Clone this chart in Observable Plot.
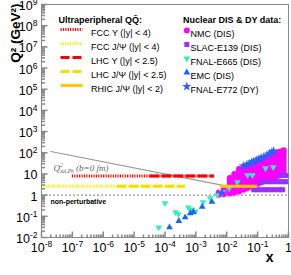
<!DOCTYPE html>
<html>
<head>
<meta charset="utf-8">
<script src="https://cdn.jsdelivr.net/npm/d3@7"></script>
<script src="https://cdn.jsdelivr.net/npm/@observablehq/plot@0.6"></script>
<style>
html,body{margin:0;padding:0;background:#fff;}
#chart{width:291px;height:275px;overflow:hidden;}
</style>
</head>
<body>
<div id="chart"></div>
<script>
// ---------- axis ticks ----------
const xTicks = [1e-8, 1e-7, 1e-6, 1e-5, 1e-4, 1e-3, 1e-2, 1e-1, 1];
const xTickLabels = ["10^-8","10^-7","10^-6","10^-5","10^-4","10^-3","10^-2","10^-1","1"];
const yTicks = [1e-2, 1e-1, 1, 10, 1e2, 1e3, 1e4, 1e5, 1e6, 1e7, 1e8, 1e9];
const yTickLabels = ["10^-2","10^-1","1","10","10^2","10^3","10^4","10^5","10^6","10^7","10^8","10^9"];

// ---------- ultraperipheral QQbar kinematic lines ----------
const upcTitle = "Ultraperipheral QQ\u0304:";
const upcNames = ["FCC \u03A5 (|y| < 4)", "FCC J/\u03A8 (|y| < 4)", "LHC \u03A5 (|y| < 2.5)", "LHC J/\u03A8 (|y| < 2.5)", "RHIC J/\u03A8 (|y| < 2)"];
const upcXmin = [1e-7, 1e-8, 3.4e-5, 2.9e-6, 6.2e-3];
const upcXmax = [4.0e-3, 4.6e-4, 4.0e-3, 4.6e-4, 0.1];
const upcQ2   = [8, 2.6, 8, 2.6, 2.6];

// ---------- saturation scale & non-perturbative limit ----------
const satX  = [2e-8, 1.1e-2];
const satQ2 = [115, 2.6];
const nonPertQ2 = [1];

// ---------- nuclear DIS & DY data ----------
const dataTitle = "Nuclear DIS & DY data:";
const dataNames = ["NMC (DIS)", "SLAC-E139 (DIS)", "FNAL-E665 (DIS)", "EMC (DIS)", "FNAL-E772 (DY)"];

const nmcX = [0.0055, 0.008, 0.0125, 0.0175, 0.025, 0.035, 0.045, 0.055, 0.07, 0.09, 0.11, 0.14, 0.18, 0.225, 0.275, 0.35, 0.45, 0.55, 0.7];
const nmcQ2 = [
  [1.05, 1.35],
  [1.1, 1.5, 2.0],
  [1.2, 1.7, 2.4, 3.4, 4.8, 6.5],
  [1.3, 1.9, 2.7, 3.9, 5.5, 7.8, 10],
  [1.5, 2.2, 3.2, 4.6, 6.6, 9.5, 13, 17],
  [1.8, 2.6, 3.8, 5.5, 8, 11.5, 16, 21],
  [2.1, 3.0, 4.4, 6.4, 9.3, 13.5, 19, 25],
  [2.4, 3.4, 5.0, 7.2, 10.5, 15, 21, 29],
  [2.8, 4.0, 5.8, 8.4, 12, 17.5, 25, 34],
  [3.2, 4.6, 6.6, 9.6, 14, 20, 28, 38],
  [3.6, 5.2, 7.5, 11, 16, 23, 32, 44],
  [4.2, 6.0, 8.7, 12.5, 18, 26, 37, 52],
  [4.8, 7.0, 10, 14.5, 21, 30, 43, 60],
  [5.4, 7.8, 11.3, 16.5, 24, 34, 49, 70],
  [6.0, 8.7, 12.5, 18, 26, 38, 55, 80],
  [7.0, 10, 14.5, 21, 30, 44, 63, 92],
  [8.0, 11.5, 16.5, 24, 35, 50, 72, 105],
  [9.0, 13, 19, 27, 39, 56, 80, 115],
  [10.5, 15, 22, 32, 46, 66, 95, 130]
];

const slacX  = [0.075, 0.09, 0.11, 0.14, 0.18, 0.22, 0.27, 0.35, 0.45, 0.55, 0.65,
                0.12, 0.15, 0.19, 0.24, 0.3, 0.38, 0.48, 0.6, 0.75, 0.85,
                0.55, 0.65, 0.78, 0.88];
const slacQ2 = [1.8, 1.8, 1.8, 1.8, 1.8, 1.8, 1.8, 1.8, 1.8, 1.8, 1.8,
                4.3, 4.3, 4.3, 4.3, 4.3, 4.3, 4.3, 4.3, 4.3, 4.3,
                8.5, 8.5, 8.5, 8.5];

const e665X  = [6.2e-5, 1.0e-4, 2.2e-4, 2.7e-4, 5.7e-4, 7.1e-4, 9.6e-4, 1.7e-3, 2.9e-3, 4.9e-3, 7.2e-3, 0.012, 0.022, 0.047, 0.068, 0.18, 0.32];
const e665Q2 = [0.03, 0.42, 0.155, 0.126, 0.26, 0.21, 0.17, 0.47, 0.71, 1.0, 1.4, 2.1, 4.1, 8.7, 8.7, 18.6, 21];

const emcX  = [1.4e-4, 2.8e-4, 4.5e-4, 6.6e-4, 8.3e-4, 1.6e-3, 3.3e-3, 7.0e-3];
const emcQ2 = [0.03, 0.06, 0.09, 0.14, 0.16, 0.28, 0.48, 1.3];

const e772X  = [0.035, 0.045, 0.055, 0.065, 0.075, 0.09, 0.11, 0.13, 0.16, 0.2, 0.24, 0.29, 0.33];
const e772Q2 = [24, 27, 31, 36, 38, 44, 50, 56, 65, 76, 90, 108, 120];

// ---------- styles ----------
const upcStyle = [
  {stroke: "#ff0000", dash: "1.2,1.2"},
  {stroke: "#ffee00", dash: "1.2,1.2"},
  {stroke: "#ff0000", dash: "9,3"},
  {stroke: "#f2e000", dash: "9,3"},
  {stroke: "#ffc800", dash: null}
];
const invTriangle = {draw(ctx, size) {
  const y = Math.sqrt(size / (Math.sqrt(3) * 3)), s3 = Math.sqrt(3);
  ctx.moveTo(0, 2 * y); ctx.lineTo(-s3 * y, -y); ctx.lineTo(s3 * y, -y); ctx.closePath();
}};
const dataStyle = [
  {symbol: "circle", fill: "#ff00ff", r: 3},
  {symbol: "square", fill: "#9b30ff", r: 2.8},
  {symbol: invTriangle, fill: "#33eebb", r: 2.5},
  {symbol: "triangle", fill: "#1166ff", r: 2.5},
  {symbol: "star", fill: "#2f5fff", r: 3}
];

// ---------- tables ----------
const nmc = nmcX.flatMap((x, i) => nmcQ2[i].map(q => ({x, q})));
const zip = (xs, qs) => xs.map((x, i) => ({x, q: qs[i]}));
const series = [nmc, zip(slacX, slacQ2), zip(e665X, e665Q2), zip(emcX, emcQ2), zip(e772X, e772Q2)];
const upc = upcNames.map((name, i) => ({name, x1: upcXmin[i], x2: upcXmax[i], q: upcQ2[i]}));
const sat = zip(satX, satQ2);

// minor/major ticks from d3's log scale
const isMajor = t => Math.abs(Math.log10(t) - Math.round(Math.log10(t))) < 1e-6;
const xAllTicks = d3.scaleLog().domain([1e-8, 1]).ticks(20);
const yAllTicks = d3.scaleLog().domain([1e-2, 1e9]).ticks(30);
const vTick = L => ({draw(ctx) { ctx.moveTo(0, 0); ctx.lineTo(0, -L); }});
const hTick = L => ({draw(ctx) { ctx.moveTo(0, 0); ctx.lineTo(L, 0); }});
const hLine = L => ({draw(ctx) { ctx.moveTo(0, 0); ctx.lineTo(L, 0); }});

const fmt = (ticks, labels) => d => {
  const i = ticks.findIndex(t => Math.abs(Math.log10(t) - Math.log10(d)) < 1e-6);
  return i >= 0 ? labels[i] : "";
};

const font = "'Liberation Sans', Arial, Helvetica, sans-serif";
const axisGray = "#888";

const marks = [
  // reference lines (under data)
  Plot.ruleY(nonPertQ2, {y: d => d, stroke: "#999", strokeWidth: 1.2, strokeDasharray: "2,2"}),
  Plot.line(sat, {x: "x", y: "q", stroke: "#999", strokeWidth: 1.2}),
  // data
  ...series.map((s, i) => Plot.dot(s, {x: "x", y: "q", symbol: dataStyle[i].symbol, fill: dataStyle[i].fill, r: dataStyle[i].r, stroke: "none"})),
  // UPC lines
  ...upc.map((u, i) => Plot.ruleY([u], {y: "q", x1: "x1", x2: "x2", stroke: upcStyle[i].stroke, strokeWidth: 3,
      strokeDasharray: upcStyle[i].dash})),
  // frame
  Plot.frame({stroke: axisGray, strokeWidth: 1}),
  // inward ticks
  Plot.dot(xAllTicks.filter(isMajor), {x: d => d, frameAnchor: "bottom", symbol: vTick(6), stroke: axisGray, fill: "none", r: 1}),
  Plot.dot(xAllTicks.filter(t => !isMajor(t)), {x: d => d, frameAnchor: "bottom", symbol: vTick(3), stroke: axisGray, fill: "none", r: 1}),
  Plot.dot(yAllTicks.filter(isMajor), {y: d => d, frameAnchor: "left", symbol: hTick(6), stroke: axisGray, fill: "none", r: 1}),
  Plot.dot(yAllTicks.filter(t => !isMajor(t)), {y: d => d, frameAnchor: "left", symbol: hTick(3.5), stroke: axisGray, fill: "none", r: 1}),
  // tick labels
  Plot.axisX({ticks: xTicks, tickFormat: fmt(xTicks, xTickLabels), tickSize: 0, tickPadding: 6, fontSize: 12.5, label: null}),
  Plot.axisY({ticks: yTicks, tickFormat: fmt(yTicks, yTickLabels), tickSize: 0, tickPadding: 4, fontSize: 12.5, label: null, dy: 1.5}),
  // axis titles
  Plot.text(["Q\u00B2 (GeV\u00B2)"], {frameAnchor: "top-left", dx: -31, dy: -1, rotate: -90, textAnchor: "end", fontWeight: "bold", fontSize: 13.5, text: d => d}),
  Plot.text(["x"], {frameAnchor: "bottom-right", dx: -15, dy: 24, fontWeight: "bold", fontSize: 14, text: d => d}),
  // annotations
  Plot.text(["non-perturbative"], {frameAnchor: "bottom-left", dx: 9, dy: -34, textAnchor: "start", fontWeight: "bold", fontSize: 7, text: d => d}),
  Plot.text(["Q2sat"], {frameAnchor: "top-left", dx: 12, dy: 160, textAnchor: "start", fontSize: 9, fill: "#666", text: d => d}),
  // legend: left
  Plot.text([upcTitle], {frameAnchor: "top-left", dx: 17, dy: 12, textAnchor: "start", fontWeight: "bold", fontSize: 9, text: d => d}),
  ...upc.map((u, i) => Plot.dot([u], {frameAnchor: "top-left", dx: 19, dy: 25 + i * 14, symbol: hLine(22), r: 1, fill: "none",
      stroke: upcStyle[i].stroke, strokeWidth: 3, strokeDasharray: upcStyle[i].dash})),
  ...upc.map((u, i) => Plot.text([u], {frameAnchor: "top-left", dx: 49.5, dy: 25 + i * 14, textAnchor: "start", fontSize: 9, text: "name"})),
  // legend: right
  Plot.text([dataTitle], {frameAnchor: "top-left", dx: 141.5, dy: 12, textAnchor: "start", fontWeight: "bold", fontSize: 9, text: d => d}),
  ...dataNames.map((n, i) => Plot.dot([n], {frameAnchor: "top-left", dx: 145.3, dy: 26 + i * 14, symbol: dataStyle[i].symbol, fill: dataStyle[i].fill, r: dataStyle[i].r, stroke: "none"})),
  ...dataNames.map((n, i) => Plot.text([n], {frameAnchor: "top-left", dx: 149, dy: 26 + i * 14, textAnchor: "start", fontSize: 9, text: d => d}))
];

const svg = Plot.plot({
  width: 291, height: 275,
  marginLeft: 41, marginRight: 3, marginTop: 4, marginBottom: 38,
  style: {fontFamily: font, fontSize: "12px", background: "#fff", overflow: "visible", color: "#000"},
  x: {type: "log", domain: [1e-8, 1], label: null, axis: null},
  y: {type: "log", domain: [1e-2, 1e9], label: null, axis: null},
  marks
});
document.getElementById("chart").appendChild(svg);

// ---------- rich text: superscripts / subscripts ----------
const NS = "http://www.w3.org/2000/svg";
const span = (txt, attrs) => {
  const s = document.createElementNS(NS, "tspan");
  s.textContent = txt;
  for (const k in attrs) s.setAttribute(k, attrs[k]);
  return s;
};
svg.querySelectorAll("text").forEach(t => {
  const txt = t.textContent;
  const m = txt.match(/^10\^(-?\d+)$/);
  if (m) {
    t.textContent = "";
    t.append(span("10", {}), span(m[1], {"font-size": 8.5, dy: -5}));
  } else if (txt === "Q2sat") {
    t.textContent = "";
    t.setAttribute("font-family", "'Liberation Serif', 'Times New Roman', serif");
    t.setAttribute("font-style", "italic");
    t.append(
      span("Q", {}),
      span("2", {"font-size": 5.5, dy: -3.5}),
      span("sat,Pb", {"font-size": 5.5, dx: -2.8, dy: 6}),
      span(" (b=0 fm)", {dy: -2.5})
    );
  }
});
</script>
</body>
</html>
